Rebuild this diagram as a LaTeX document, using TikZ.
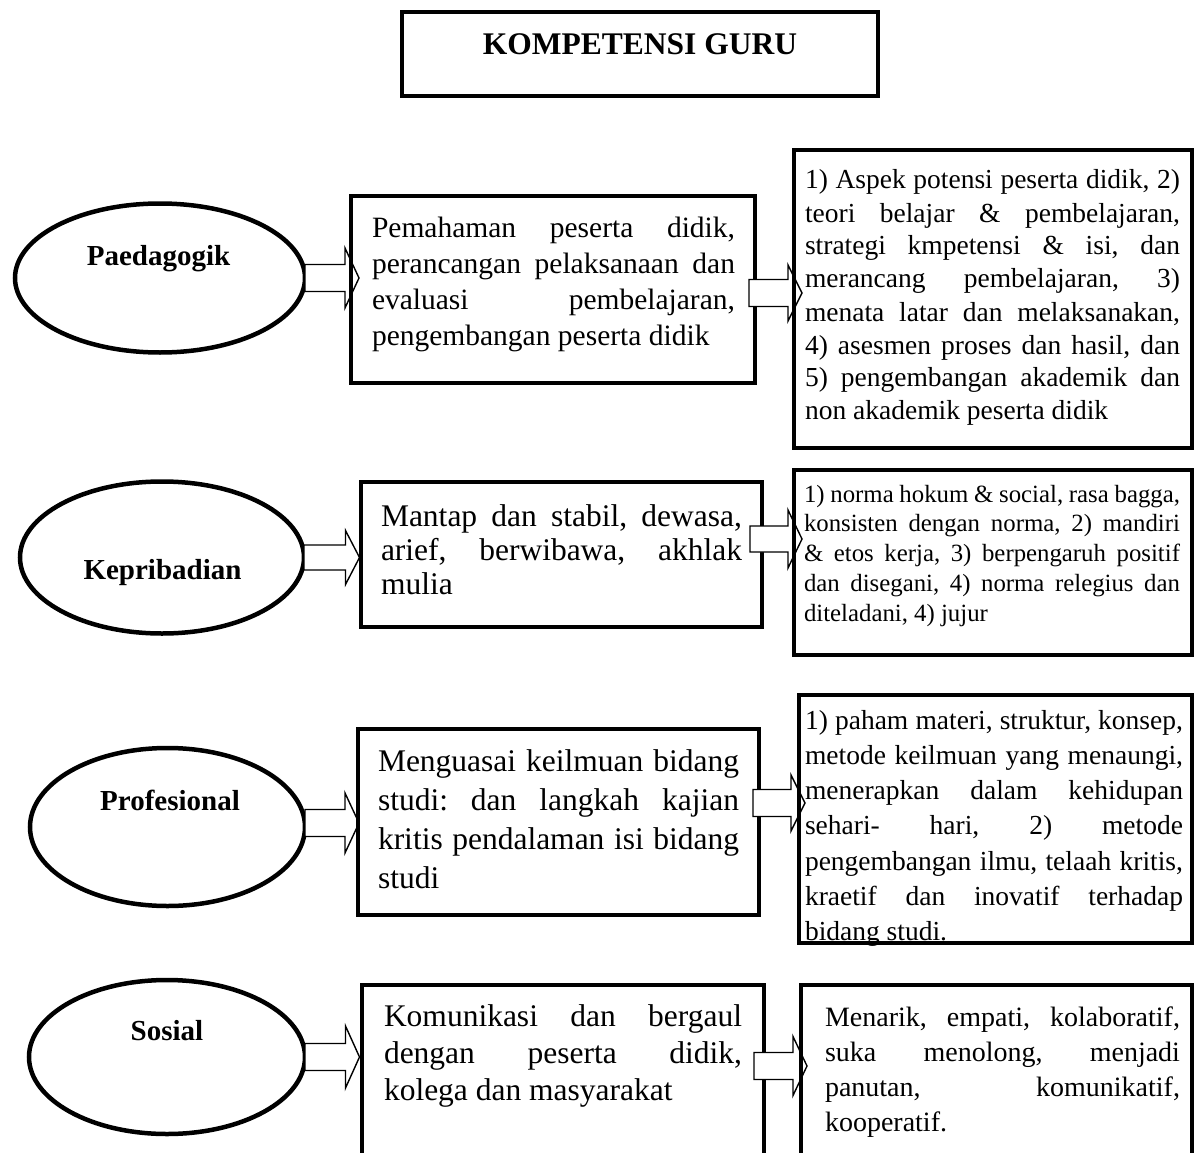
\documentclass[tikz,border=0pt]{standalone}
\usepackage{fontspec}
\setmainfont{Liberation Serif}
\usetikzlibrary{calc,shapes.geometric}
\tikzset{
  box/.style={draw, line width=4, rectangle, inner sep=0, outer sep=0},
  ell/.style={draw, line width=4.5, ellipse, inner sep=0, outer sep=0},
  lbl/.style={font=\fontsize{29}{34}\selectfont\bfseries, inner sep=0, anchor=base},
  txt/.style={inner sep=0, outer sep=0, anchor=base west, align=left},
  barrowstyle/.style={draw, fill=white, line width=1.4, line join=miter},
}
\newcommand\ns{\frenchspacing\spaceskip=0pt\xspaceskip=0pt\relax}
\newcommand\jl[1]{\makebox[\linewidth][s]{#1}\\}
% #1 start coord, #2 tip coord (same height), #3 body half height, #4 head half height
\newcommand\blockarrow[4]{%
  \draw[barrowstyle] ($(#1)+(0,-#3)$) -- ($(#2)+(-14,-#3)$) -- ($(#2)+(-14,-#4)$)
    -- (#2) -- ($(#2)+(-14,#4)$) -- ($(#2)+(-14,#3)$) -- ($(#1)+(0,#3)$) -- cycle;}
\begin{document}
\begin{tikzpicture}[x=1pt,y=-1pt]
\path[use as bounding box] (0,0) rectangle (1194,1153);
\clip (0,0) rectangle (1194,1153);

% title
\node[box, minimum width=476, minimum height=84] (title) at (640,54) {};
\node[inner sep=0, anchor=base, font=\fontsize{31.5}{36}\selectfont\bfseries] (titletext) at (640,55) {KOMPETENSI GURU};

% ellipses
\node[ell, minimum width=290, minimum height=149] (e1) at (160,278) {};
\node[ell, minimum width=284, minimum height=152] (e2) at (162,557.5) {};
\node[ell, minimum width=275, minimum height=158] (e3) at (167.5,827) {};
\node[ell, minimum width=276, minimum height=154] (e4) at (167,1057) {};
\node[lbl] (e1t) at (158.5,265) {Paedagogik};
\node[lbl] (e2t) at (162.5,579) {Kepribadian};
\node[lbl] (e3t) at (170,810) {Profesional};
\node[lbl] (e4t) at (167,1040) {Sosial};

% middle boxes (geometry)
\path (552.75,289.5) node[box, draw=none, minimum width=404.5, minimum height=187] (m1) {};
\path (561.25,554.5) node[box, draw=none, minimum width=401.5, minimum height=145] (m2) {};
\path (558.5,821.75) node[box, draw=none, minimum width=401, minimum height=186.5] (m3) {};
\path (562.5,1082.5) node[box, draw=none, minimum width=402, minimum height=195] (m4) {};

% left block arrows (ellipse -> middle box)
\coordinate (l1s) at (e1.east);
\coordinate (l2s) at (e2.east);
\coordinate (l3s) at ($(e3.east)+(0,-4)$);
\coordinate (l4s) at (e4.east);
\coordinate (l1t) at ($(m1.west |- l1s)+(8.5,0)$);
\coordinate (l2t) at ($(m2.west |- l2s)+(-1,0)$);
\coordinate (l3t) at ($(m3.west |- l3s)+(1,0)$);
\coordinate (l4t) at ($(m4.west |- l4s)+(-2,0)$);
\blockarrow{l1s}{l1t}{13.5}{30}
\blockarrow{l2s}{l2t}{12.5}{27}
\blockarrow{l3s}{l3t}{13.5}{30}
\blockarrow{l4s}{l4t}{13.5}{31}

% middle box outlines
\draw[line width=4] (m1.north west) rectangle (m1.south east);
\draw[line width=4] (m2.north west) rectangle (m2.south east);
\draw[line width=4] (m3.north west) rectangle (m3.south east);
\draw[line width=4] (m4.north west) rectangle (m4.south east);

% right boxes (geometry)
\path (993,299) node[box, draw=none, minimum width=398, minimum height=298] (r1) {};
\path (992.75,562.5) node[box, draw=none, minimum width=398.5, minimum height=185] (r2) {};
\path (995.5,819) node[box, draw=none, minimum width=393, minimum height=248] (r3) {};
\path (996.5,1082.5) node[box, draw=none, minimum width=391, minimum height=195] (r4) {};

% right block arrows (middle box -> right box)
\coordinate (a1s) at ($(m1.east)+(-6,3.5)$);
\coordinate (a2s) at ($(m2.east)+(-12,-15.5)$);
\coordinate (a3s) at ($(m3.east)+(-6,-18.75)$);
\coordinate (a4s) at ($(m4.east)+(-9.5,-16.5)$);
\coordinate (a1t) at ($(r1.west |- a1s)+(8,0)$);
\coordinate (a2t) at ($(r2.west |- a2s)+(8.5,0)$);
\coordinate (a3t) at ($(r3.west |- a3s)+(6,0)$);
\coordinate (a4t) at ($(r4.west |- a4s)+(6,0)$);
\blockarrow{a1s}{a1t}{13.5}{28}
\blockarrow{a2s}{a2t}{13}{29}
\blockarrow{a3s}{a3t}{13.5}{28}
\blockarrow{a4s}{a4t}{13.5}{29.5}

\draw[line width=4] (r1.north west) rectangle (r1.south east);
\draw[line width=4] (r2.north west) rectangle (r2.south east);
\draw[line width=4] (r3.north west) rectangle (r3.south east);
\draw[line width=4] (r4.north west) rectangle (r4.south east);

% texts
\node[txt, text width=363, font=\fontsize{29.5}{36}\selectfont] (m1t) at (372,237) {\ns
\jl{Pemahaman peserta didik,}
\jl{perancangan pelaksanaan dan}
\jl{evaluasi pembelajaran,}
pengembangan peserta didik};

\node[txt, text width=375, font=\fontsize{27.5}{33}\selectfont] (r1t) at (805,189) {\ns
\jl{1) Aspek potensi peserta didik, 2)}
\jl{teori belajar \& pembelajaran,}
\jl{strategi kmpetensi \& isi, dan}
\jl{merancang pembelajaran, 3)}
\jl{menata latar dan melaksanakan,}
\jl{4) asesmen proses dan hasil, dan}
\jl{5) pengembangan akademik dan}
non akademik peserta didik};

\node[txt, text width=361, font=\fontsize{31.5}{34}\selectfont] (m2t) at (381,526) {\ns
\jl{Mantap dan stabil, dewasa,}
\jl{arief, berwibawa, akhlak}
mulia};

\node[txt, text width=376, font=\fontsize{24.8}{29.8}\selectfont] (r2t) at (804,502) {\ns
\jl{1) norma hokum \& social, rasa bagga,}
\jl{konsisten dengan norma, 2) mandiri}
\jl{\& etos kerja, 3) berpengaruh positif}
\jl{dan disegani, 4) norma relegius dan}
diteladani, 4) jujur};

\node[txt, text width=361, font=\fontsize{31.5}{39}\selectfont] (m3t) at (378,771) {\ns
\jl{Menguasai keilmuan bidang}
\jl{studi: dan langkah kajian}
\jl{kritis pendalaman isi bidang}
studi};

\node[txt, text width=378, font=\fontsize{27.5}{35.3}\selectfont] (r3t) at (805,729) {\ns
\jl{1) paham materi, struktur, konsep,}
\jl{metode keilmuan yang menaungi,}
\jl{menerapkan dalam kehidupan}
\jl{sehari- hari, 2) metode}
\jl{pengembangan ilmu, telaah kritis,}
\jl{kraetif dan inovatif terhadap}
bidang studi.};

\node[txt, text width=358, font=\fontsize{31.5}{37}\selectfont] (m4t) at (384,1026) {\ns
\jl{Komunikasi dan bergaul}
\jl{dengan peserta didik,}
kolega dan masyarakat};

\node[txt, text width=355, font=\fontsize{28}{35}\selectfont] (r4t) at (825,1026) {\ns
\jl{Menarik, empati, kolaboratif,}
\jl{suka menolong, menjadi}
\jl{panutan, komunikatif,}
kooperatif.};
\end{tikzpicture}
\end{document}
